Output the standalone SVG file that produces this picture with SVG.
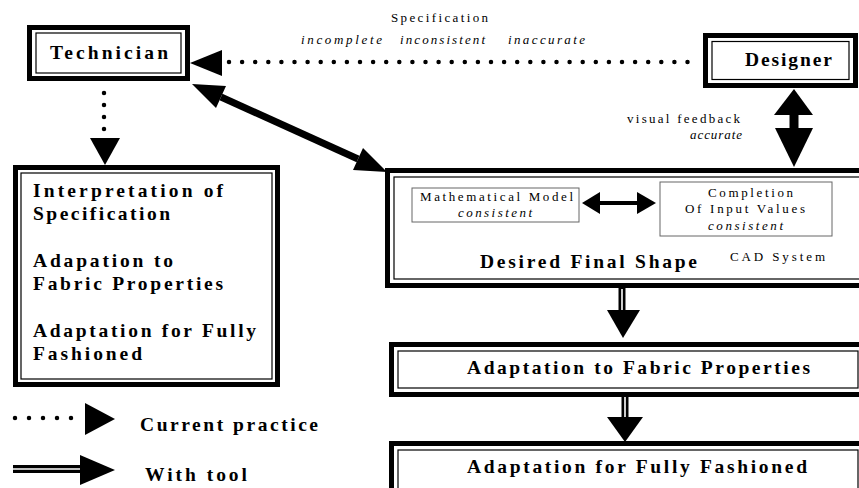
<svg xmlns="http://www.w3.org/2000/svg" width="859" height="488" viewBox="0 0 859 488" font-family="Liberation Serif, Times New Roman, serif">
<style>
.outer{fill:#fff;stroke:#000;stroke-width:5}
.inner{fill:none;stroke:#000;stroke-width:1.2}
.sub{fill:#fff;stroke:#666;stroke-width:1}
.head{fill:#000}
.dots{stroke:#000;stroke-width:4.5;stroke-linecap:round;fill:none}
.shaft{stroke:#000;fill:none}
.dblw{stroke:#fff;stroke-width:1.6;fill:none}
.big{font-weight:bold;font-size:19.5px;fill:#000}
.small{font-size:13px;fill:#000}
.it{font-style:italic}
</style>
<rect width="859" height="488" fill="#fff"/>

<g id="connectors">
  <line class="dots" x1="229" y1="62" x2="700" y2="62" stroke-dasharray="0 13.1"/>
  <polygon class="head" points="190,63 222,50 222,76"/>
  <line class="dots" x1="104" y1="93" x2="104" y2="130" stroke-dasharray="0 12"/>
  <polygon class="head" points="90,138 120,138 105,165"/>
  <line class="shaft" x1="221" y1="97" x2="358" y2="159" stroke-width="7"/>
  <polygon class="head" points="192,84 216,108 226,86"/>
  <polygon class="head" points="387,172 353,170 363,148"/>
  <line class="shaft" x1="794" y1="112" x2="794" y2="131" stroke-width="9"/>
  <polygon class="head" points="794,89 774,115 813,115"/>
  <polygon class="head" points="775,128 813,128 794,167"/>
  <line class="shaft" x1="622" y1="288" x2="622" y2="312" stroke-width="7"/>
  <line class="dblw" x1="622" y1="289" x2="622" y2="311"/>
  <polygon class="head" points="607,310 640,310 623,338"/>
  <line class="shaft" x1="625" y1="396" x2="625" y2="419" stroke-width="7"/>
  <line class="dblw" x1="625" y1="397" x2="625" y2="418"/>
  <polygon class="head" points="607,417 643,417 625,442"/>
</g>

<g id="technician">
  <rect class="outer" x="29.5" y="27.5" width="158" height="51"/>
  <rect class="inner" x="36" y="33" width="145" height="40"/>
  <text class="big" x="50" y="59" textLength="118" lengthAdjust="spacing">Technician</text>
</g>

<g id="designer">
  <rect class="outer" x="705.5" y="35.5" width="150" height="50"/>
  <rect class="inner" x="712" y="41.5" width="137" height="38"/>
  <text class="big" x="745" y="66" textLength="87" lengthAdjust="spacing">Designer</text>
</g>

<g id="spec-label">
  <text class="small" x="391" y="22" textLength="97" lengthAdjust="spacing">Specification</text>
  <text class="small it" x="301" y="44" textLength="81" lengthAdjust="spacing">incomplete</text>
  <text class="small it" x="400" y="44" textLength="85" lengthAdjust="spacing">inconsistent</text>
  <text class="small it" x="508" y="44" textLength="77" lengthAdjust="spacing">inaccurate</text>
</g>

<g id="feedback-label">
  <text class="small" x="627" y="123" textLength="113" lengthAdjust="spacing">visual feedback</text>
  <text class="small it" x="690" y="139" textLength="52" lengthAdjust="spacing">accurate</text>
</g>

<g id="manual-steps">
  <rect class="outer" x="15.5" y="167.5" width="262" height="217"/>
  <rect class="inner" x="21" y="173" width="251" height="206"/>
  <text class="big" x="33" y="197" textLength="190" lengthAdjust="spacing">Interpretation  of</text>
  <text class="big" x="33" y="220" textLength="137" lengthAdjust="spacing">Specification</text>
  <text class="big" x="33" y="267" textLength="140" lengthAdjust="spacing">Adapation to</text>
  <text class="big" x="33" y="290" textLength="190" lengthAdjust="spacing">Fabric Properties</text>
  <text class="big" x="33" y="337" textLength="223" lengthAdjust="spacing">Adaptation for Fully</text>
  <text class="big" x="33" y="360" textLength="109" lengthAdjust="spacing">Fashioned</text>
</g>

<g id="cad-system">
  <rect class="outer" x="387.5" y="170.5" width="480" height="115"/>
  <rect class="inner" x="394" y="177" width="470" height="102"/>
  <text class="big" x="480" y="268" textLength="217" lengthAdjust="spacing">Desired Final Shape</text>
  <text class="small" x="730" y="261" textLength="95" lengthAdjust="spacing">CAD System</text>
</g>

<g id="math-model">
  <rect class="sub" x="412" y="188" width="167" height="34"/>
  <text class="small" x="420" y="201" textLength="153" lengthAdjust="spacing">Mathematical Model</text>
  <text class="small it" x="458" y="217" textLength="74" lengthAdjust="spacing">consistent</text>
</g>

<g id="completion">
  <rect class="sub" x="660" y="182" width="172" height="54"/>
  <text class="small" x="708" y="197" textLength="85" lengthAdjust="spacing">Completion</text>
  <text class="small" x="685" y="213" textLength="120" lengthAdjust="spacing">Of Input Values</text>
  <text class="small it" x="708" y="230" textLength="75" lengthAdjust="spacing">consistent</text>
</g>
<g id="model-arrow">
  <line class="shaft" x1="598" y1="203" x2="640" y2="203" stroke-width="4"/>
  <polygon class="head" points="582,203 600,192 600,214"/>
  <polygon class="head" points="656,203 637,192 637,214"/>
</g>

<g id="fabric">
  <rect class="outer" x="391.5" y="344.5" width="470" height="50"/>
  <rect class="inner" x="398" y="351" width="460" height="37"/>
  <text class="big" x="467" y="374" textLength="343" lengthAdjust="spacing">Adaptation to Fabric Properties</text>
</g>

<g id="fully-fashioned">
  <rect class="outer" x="391.5" y="443.5" width="470" height="60"/>
  <rect class="inner" x="398" y="450" width="460" height="50"/>
  <text class="big" x="467" y="473" textLength="340" lengthAdjust="spacing">Adaptation for Fully Fashioned</text>
</g>

<g id="legend">
  <line class="dots" x1="15" y1="418" x2="72" y2="418" stroke-dasharray="0 14"/>
  <polygon class="head" points="85,403 85,435 115,419"/>
  <text class="big" x="140" y="431" textLength="178" lengthAdjust="spacing">Current practice</text>
  <line class="shaft" x1="13" y1="469" x2="82" y2="469" stroke-width="8"/>
  <line class="dblw" x1="13" y1="469" x2="82" y2="469"/>
  <polygon class="head" points="80,455 80,485 115,470"/>
  <text class="big" x="145" y="481" textLength="102" lengthAdjust="spacing">With tool</text>
</g>
</svg>
